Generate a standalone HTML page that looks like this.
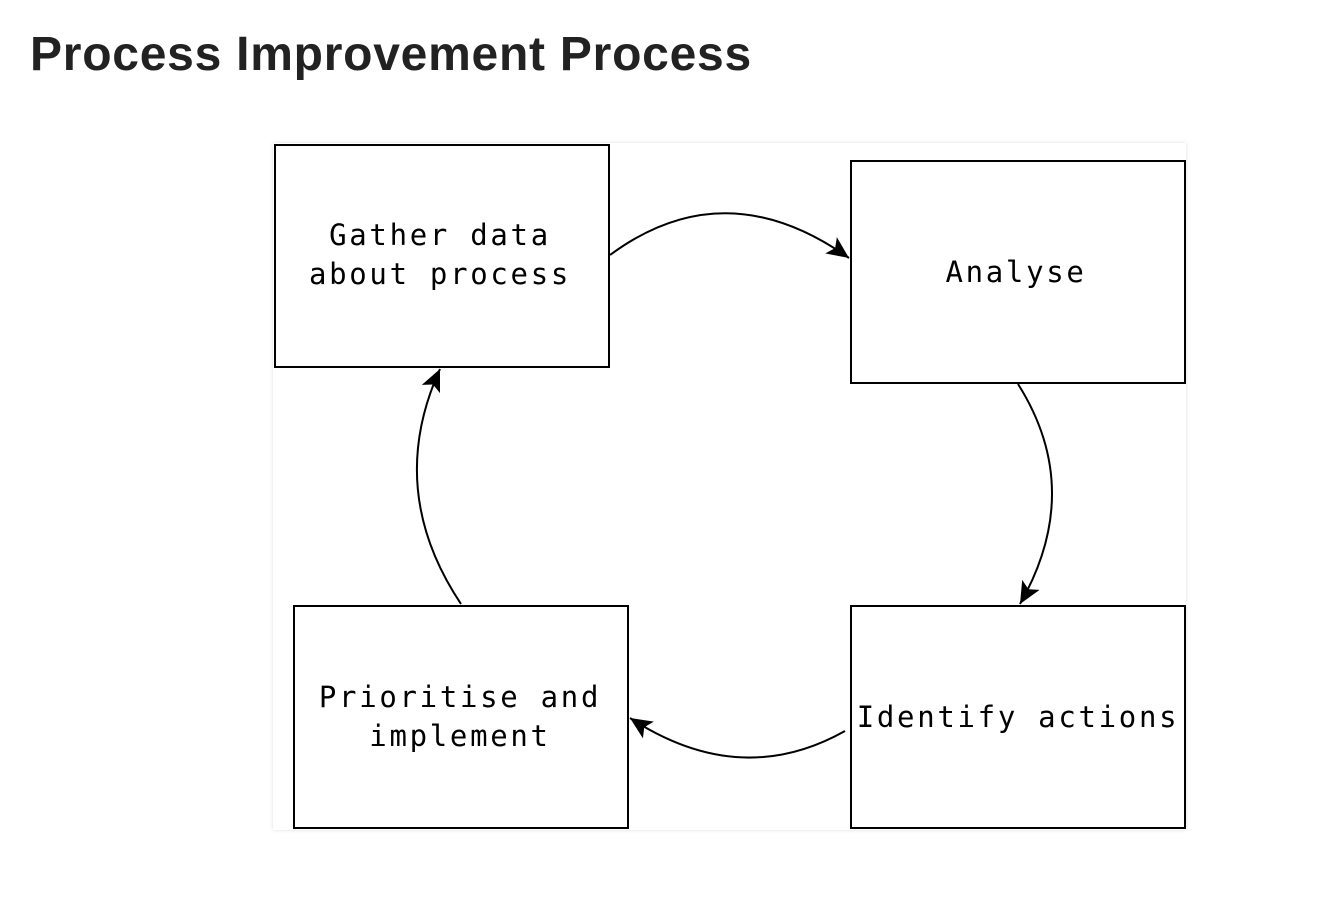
<!DOCTYPE html>
<html><head><meta charset="utf-8"><style>
html,body{margin:0;padding:0;background:#fff;width:1340px;height:904px;overflow:hidden}
h1{position:absolute;left:30px;top:27px;margin:0;font-family:"Liberation Sans",sans-serif;font-weight:bold;font-size:48px;color:#222;letter-spacing:0.75px}
.dia{position:absolute;left:273px;top:143px;width:913px;height:687px;background:#fff;box-shadow:0 0 4px rgba(0,0,0,0.12)}
svg{position:absolute;left:0;top:0}
text{font-family:"DejaVu Sans Mono","Liberation Mono",monospace;font-size:29px;fill:#000}
</style></head><body>
<h1>Process Improvement Process</h1>
<div class="dia"></div>
<svg width="1340" height="904" viewBox="0 0 1340 904">
<defs>
<marker id="b" markerWidth="24" markerHeight="24" refX="22" refY="12" orient="auto" markerUnits="userSpaceOnUse"><path d="M0,2 L22,12 L0,22 L5,12 z" fill="#000"/></marker></defs>
<g fill="#fff" stroke="#000" stroke-width="2">
<rect x="275" y="145" width="334" height="222"/>
<rect x="851" y="161" width="334" height="222"/>
<rect x="851" y="606" width="334" height="222"/>
<rect x="294" y="606" width="334" height="222"/>
</g>
<g fill="none" stroke="#000" stroke-width="2" marker-end="url(#b)">
<path d="M610,255 Q725,170 849,258"/>
<path d="M1018,384 Q1085,490 1020,604"/>
<path d="M845,731 Q740,790 630,718"/>
<path d="M461,604 Q385,490 440,369"/>
</g>
<g text-anchor="middle" letter-spacing="2.7">
<text x="440" y="245">Gather data</text>
<text x="440" y="284">about process</text>
<text x="1016" y="282">Analyse</text>
<text x="1018" y="727">Identify actions</text>
<text x="460" y="707">Prioritise and</text>
<text x="460" y="746">implement</text>
</g>
</svg>
</body></html>
